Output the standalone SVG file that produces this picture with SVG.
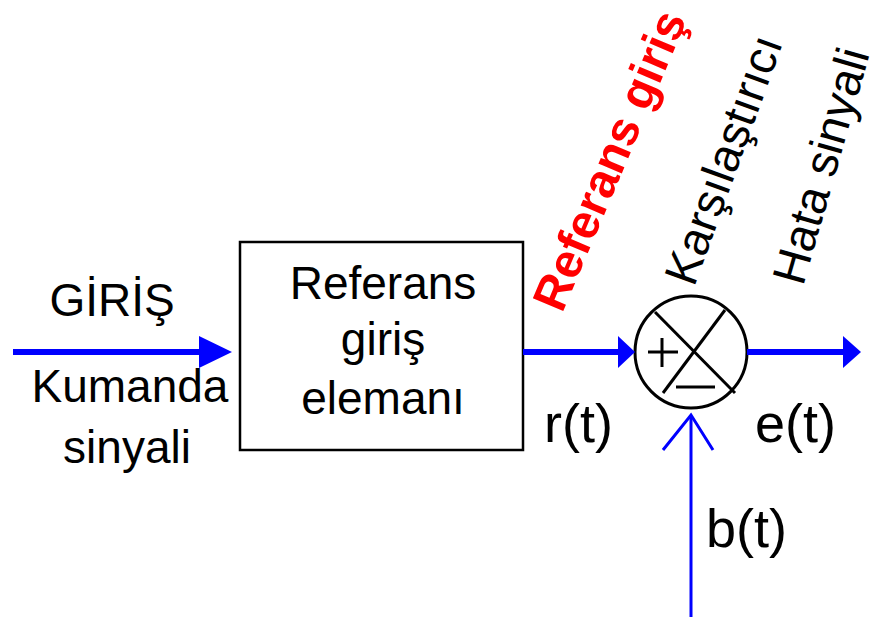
<svg xmlns="http://www.w3.org/2000/svg" width="882" height="617" viewBox="0 0 882 617">
  <style>
    .lbl { font-family: "Liberation Sans", Arial, sans-serif; font-size: 46px; fill: #000; }
    .cap { font-family: "Liberation Sans", Arial, sans-serif; font-size: 47px; fill: #000; }
    .sig { font-family: "Liberation Sans", Arial, sans-serif; font-size: 54px; fill: #000; }
    .red { font-family: "Liberation Sans", Arial, sans-serif; font-size: 48px; font-weight: bold; fill: #ff0000; }
    .wire { stroke: #0000ff; stroke-width: 6; fill: none; }
    .head { fill: #0000ff; }
    .ink { stroke: #000; stroke-width: 3; fill: none; }
  </style>

  <rect width="882" height="617" fill="#fff"/>

  <!-- signal labels -->
  <g id="input-labels">
    <text class="lbl" x="112" y="316" text-anchor="middle">GİRİŞ</text>
    <text class="lbl" x="130" y="402" text-anchor="middle">Kumanda</text>
    <text class="lbl" x="127" y="463" text-anchor="middle">sinyali</text>
  </g>

  <!-- reference input element -->
  <g id="reference-element">
    <rect x="240" y="242" width="283" height="208" fill="#fff" stroke="#000" stroke-width="2.5"/>
    <text class="lbl" x="383" y="299" text-anchor="middle">Referans</text>
    <text class="lbl" x="383" y="355" text-anchor="middle">giriş</text>
    <text class="lbl" x="383" y="414" text-anchor="middle">elemanı</text>
  </g>

  <!-- comparator (summing junction) -->
  <g id="comparator">
    <circle cx="691" cy="352" r="56" fill="#fff" class="ink"/>
    <line class="ink" x1="655" y1="312" x2="735" y2="393"/>
    <line class="ink" x1="725" y1="310" x2="663" y2="393"/>
    <line class="ink" x1="648" y1="352" x2="678" y2="352"/>
    <line class="ink" x1="662" y1="338" x2="662" y2="367"/>
    <line class="ink" x1="676" y1="387" x2="715" y2="387"/>
  </g>

  <!-- connectors -->
  <g id="connectors">
    <line class="wire" x1="13" y1="352" x2="202" y2="352"/>
    <polygon class="head" points="199,336 232,352 199,368"/>

    <line class="wire" x1="523" y1="352" x2="620" y2="352"/>
    <polygon class="head" points="618,336 635,352 618,368"/>

    <line class="wire" x1="747" y1="352" x2="845" y2="352"/>
    <polygon class="head" points="843,336 861,352 843,368"/>

    <line x1="691" y1="617" x2="691" y2="416" stroke="#0000ff" stroke-width="3"/>
    <polyline points="663,450 691,415 713,450" stroke="#0000ff" stroke-width="3" fill="none"/>
  </g>

  <!-- signal names -->
  <g id="signal-names">
    <text class="sig" x="544" y="442">r(t)</text>
    <text class="sig" x="755" y="442">e(t)</text>
    <text class="sig" x="706" y="547">b(t)</text>
  </g>

  <!-- rotated captions -->
  <g id="captions">
    <text class="red" transform="translate(562,314) rotate(-67)">Referans giriş</text>
    <text class="cap" transform="translate(694,288) rotate(-70)">Karşılaştırıcı</text>
    <text class="cap" transform="translate(803,287) rotate(-74)">Hata sinyali</text>
  </g>
</svg>
